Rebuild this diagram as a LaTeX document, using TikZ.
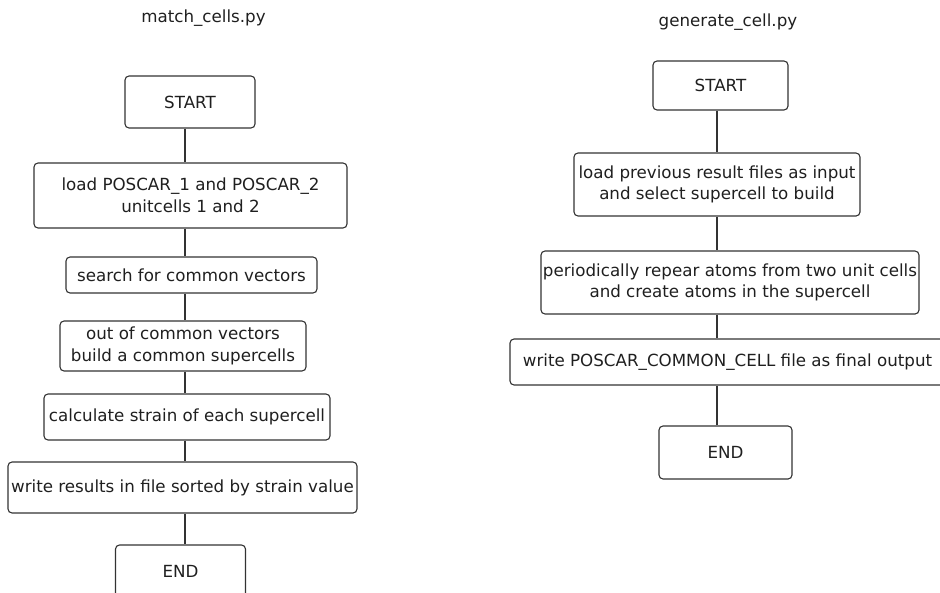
\documentclass[tikz,border=0pt]{standalone}
\usepackage{fontspec}
\setmainfont{DejaVu Sans}
\begin{document}
\begin{tikzpicture}[x=1pt, y=-1pt,
    every node/.style={font=\fontsize{16.7}{21.6}\selectfont, text=black!88},
    stepbox/.style={draw=black!80, line width=1.1pt, rounded corners=4pt, inner sep=0pt, align=center},
    link/.style={draw=black!80, line width=1.1pt}]
  \useasboundingbox (0,0) rectangle (940,592);
  % match_cells.py
  \node (titleL) at (203.5,18) {match\_cells.py};
  \node[stepbox, minimum width=130, minimum height=52] (startL) at (190,102) {START};
  \node[stepbox, minimum width=313, minimum height=65] (loadL) at (190.5,195.5) {load POSCAR\_1 and POSCAR\_2\\unitcells 1 and 2};
  \node[stepbox, minimum width=251, minimum height=36] (searchL) at (191.5,275) {search for common vectors};
  \node[stepbox, minimum width=246, minimum height=50] (buildL) at (183,346) {out of common vectors\\build a common supercells};
  \node[stepbox, minimum width=286, minimum height=46] (strainL) at (187,417) {calculate strain of each supercell};
  \node[stepbox, minimum width=349, minimum height=51] (writeL) at (182.5,487.5) {write results in file sorted by strain value};
  \node[stepbox, minimum width=130, minimum height=52] (endL) at (180.5,571) {END};
  \coordinate (axisL) at (185,0);
  \foreach \a/\b in {startL/loadL, loadL/searchL, searchL/buildL, buildL/strainL, strainL/writeL, writeL/endL}
    \draw[link] (\a.south -| axisL) -- (\b.north -| axisL);
  % generate_cell.py
  \node (titleR) at (728,22) {generate\_cell.py};
  \node[stepbox, minimum width=135, minimum height=49] (startR) at (720.5,85.5) {START};
  \node[stepbox, minimum width=286, minimum height=63] (loadR) at (717,184.5) {load previous result files as input\\and select supercell to build};
  \node[stepbox, minimum width=378, minimum height=63] (repeatR) at (730,282.5) {periodically repear atoms from two unit cells\\and create atoms in the supercell};
  \node[stepbox, minimum width=435, minimum height=46] (writeR) at (727.5,362) {write POSCAR\_COMMON\_CELL file as final output};
  \node[stepbox, minimum width=133, minimum height=53] (endR) at (725.5,452.5) {END};
  \coordinate (axisR) at (717,0);
  \foreach \a/\b in {startR/loadR, loadR/repeatR, repeatR/writeR, writeR/endR}
    \draw[link] (\a.south -| axisR) -- (\b.north -| axisR);
\end{tikzpicture}
\end{document}
